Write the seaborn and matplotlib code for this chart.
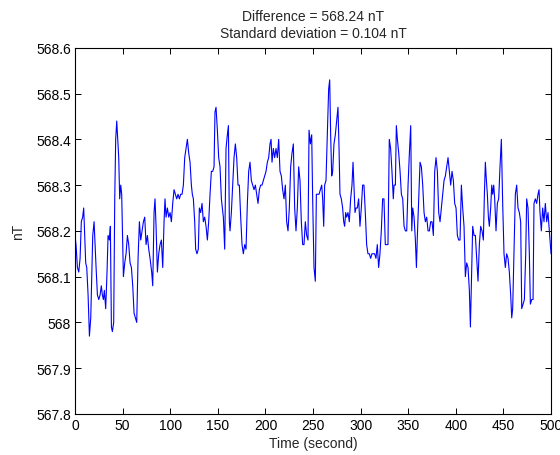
import pandas as pd
import matplotlib
matplotlib.use("Agg")
import matplotlib.pyplot as plt
import seaborn as sns
from matplotlib.ticker import MultipleLocator, FuncFormatter


time_s = [
    0.0, 1.0, 2.5, 3.9, 5.3, 6.6, 8.0, 9.1, 10.2, 11.2, 12.3, 13.7, 15.1, 16.5, 17.5, 18.6,
    20.0, 21.0, 22.1, 23.5, 24.9, 26.3, 27.6, 28.7, 29.8, 30.8, 32.2, 33.6, 34.7, 36.1, 37.1,
    38.2, 39.2, 40.6, 41.7, 42.7, 43.8, 44.8, 45.9, 46.9, 48.0, 49.0, 50.1, 50.8, 52.2, 53.6,
    55.0, 56.4, 57.8, 59.2, 60.6, 62.0, 63.4, 64.8, 66.2, 67.6, 69.0, 70.4, 71.8, 73.2, 74.6,
    76.0, 77.4,
    78.8, 80.5, 81.6, 83.0, 84.0, 85.1, 86.5, 87.9, 89.3, 90.7, 92.1, 93.5, 94.5, 95.6, 97.0,
    98.4, 99.8, 101.2, 102.6, 104.0, 105.4, 106.8, 108.2, 109.6, 111.0, 112.4, 113.8, 115.2,
    116.6, 118.0, 119.4, 120.8, 122.2, 123.2, 124.3, 125.7, 126.7, 128.1, 129.5, 130.6, 132.0,
    133.4, 134.8, 136.2, 137.6, 139.0, 140.4, 141.8, 143.2, 144.6, 146.0, 147.0, 148.1, 149.5,
    150.9, 152.3, 153.7, 154.7, 155.8, 157.2, 158.6, 160.0, 161.1, 162.1,
    162.8, 164.2, 165.6, 167.0, 168.4, 169.8, 171.2, 172.6, 174.0, 175.4, 176.8, 178.2, 179.6,
    181.0, 182.4, 183.8, 185.2, 186.6, 188.0, 189.4, 190.8, 192.2, 193.6, 195.0, 196.4, 197.8,
    199.2, 200.6, 202.0, 203.4, 204.8, 205.9, 206.9, 208.3, 209.7, 211.1, 212.5, 213.9, 215.3,
    216.7, 218.1, 219.5, 220.9, 222.3, 223.7, 225.1, 226.5, 227.9, 229.3, 230.7, 232.1, 233.5,
    234.9, 236.3, 237.7, 239.1, 240.5, 241.9, 243.3, 244.7, 245.8, 247.2, 248.6,
    249.6, 251.0, 252.4, 253.5, 254.9, 256.3, 257.7, 259.1, 260.1, 261.2, 262.2, 263.6, 265.0,
    266.4, 267.5, 268.5, 269.6, 270.6, 272.0, 273.4, 274.8, 276.2, 277.3, 278.3, 279.7, 281.1,
    282.2, 283.2, 284.3, 285.3, 286.7, 288.1, 289.5, 290.9, 292.0, 293.0, 294.1, 295.1, 296.5,
    297.9, 299.3, 300.7, 302.1, 303.5, 304.9, 306.3, 307.7, 309.1, 310.5, 311.9, 313.3, 314.7,
    316.1, 317.5, 318.9, 320.3, 321.7, 323.1, 324.5, 325.9, 327.3, 328.7, 330.1, 331.5, 332.9,
    334.3,
    335.1, 336.5, 337.5, 338.6, 340.0, 341.4, 342.8, 344.2, 345.6, 347.0, 348.4, 349.8, 351.2,
    352.6, 353.7, 354.7, 356.1, 357.5, 358.6, 359.6, 361.0, 362.4, 363.8, 365.2, 366.6, 368.0,
    369.4, 370.8, 372.2, 373.6, 375.0, 376.4, 377.8, 379.2, 380.6, 382.0, 383.4, 384.8, 386.2,
    387.6, 389.0, 390.4, 391.8, 393.2, 394.6, 396.0, 397.4, 398.8, 400.2, 401.6, 403.0, 404.4,
    405.8, 407.2, 408.6, 410.0, 411.4, 412.8, 414.2, 415.3,
    416.3, 417.7, 419.1, 420.5, 421.9, 423.3, 424.7, 426.1, 427.5, 428.9, 430.0, 431.0, 432.1,
    433.1, 434.2, 435.2, 436.6, 437.7, 438.7, 439.8, 440.8, 442.2, 443.6, 445.0, 446.4, 447.8,
    449.2, 450.6, 452.0, 453.4, 454.8, 456.2, 457.6, 458.7, 459.7, 461.1, 462.5, 463.9, 465.3,
    466.7, 468.1, 469.2, 470.6, 472.0, 473.4, 474.4, 475.8, 477.2, 478.3, 479.7, 481.1, 482.1,
    483.5, 484.9, 486.3, 487.4, 488.4, 489.8, 491.2, 492.6, 494.0, 495.4, 496.8, 498.2, 500.0,
]

field_nT = [
    568.19, 568.17, 568.12, 568.11, 568.14, 568.22, 568.23, 568.25, 568.19, 568.13, 568.12,
    568.06, 567.97, 568.01, 568.10, 568.19, 568.22, 568.17, 568.12, 568.06, 568.05, 568.06,
    568.08, 568.06, 568.05, 568.07, 568.03, 568.11, 568.19, 568.18, 568.21, 567.99, 567.98,
    568.00, 568.27, 568.40, 568.44, 568.40, 568.36, 568.27, 568.30, 568.28, 568.17, 568.10,
    568.13, 568.15, 568.19, 568.17, 568.13, 568.12, 568.08, 568.02, 568.01, 568.00, 568.14,
    568.22, 568.18, 568.20, 568.22, 568.23, 568.17, 568.19, 568.16,
    568.14, 568.11, 568.08, 568.24, 568.27, 568.21, 568.11, 568.15, 568.17, 568.18, 568.12,
    568.22, 568.27, 568.23, 568.25, 568.23, 568.24, 568.22, 568.26, 568.29, 568.28, 568.27,
    568.28, 568.27, 568.28, 568.28, 568.30, 568.36, 568.38, 568.40, 568.37, 568.35, 568.30,
    568.28, 568.27, 568.22, 568.16, 568.15, 568.16, 568.25, 568.24, 568.26, 568.22, 568.23,
    568.21, 568.18, 568.22, 568.28, 568.33, 568.33, 568.34, 568.46, 568.47, 568.42, 568.36,
    568.34, 568.27, 568.25, 568.23, 568.16, 568.38, 568.41, 568.43, 568.22,
    568.20, 568.24, 568.30, 568.36, 568.39, 568.36, 568.30, 568.30, 568.23, 568.17, 568.15,
    568.17, 568.16, 568.26, 568.33, 568.35, 568.31, 568.30, 568.29, 568.30, 568.28, 568.26,
    568.29, 568.30, 568.30, 568.31, 568.32, 568.33, 568.35, 568.36, 568.39, 568.40, 568.35,
    568.38, 568.36, 568.38, 568.36, 568.40, 568.33, 568.32, 568.29, 568.27, 568.30, 568.22,
    568.20, 568.25, 568.34, 568.37, 568.39, 568.25, 568.20, 568.25, 568.34, 568.31, 568.22,
    568.17, 568.17, 568.22, 568.19, 568.18, 568.42, 568.39, 568.41,
    568.27, 568.12, 568.09, 568.28, 568.28, 568.28, 568.29, 568.30, 568.27, 568.21, 568.30,
    568.31, 568.41, 568.51, 568.53, 568.41, 568.32, 568.33, 568.39, 568.41, 568.44, 568.47,
    568.38, 568.28, 568.27, 568.25, 568.22, 568.21, 568.24, 568.23, 568.24, 568.22, 568.27,
    568.30, 568.35, 568.30, 568.24, 568.25, 568.25, 568.27, 568.21, 568.25, 568.30, 568.30,
    568.24, 568.17, 568.15, 568.15, 568.14, 568.15, 568.15, 568.15, 568.14, 568.17, 568.12,
    568.15, 568.20, 568.27, 568.27, 568.17, 568.17, 568.17, 568.40, 568.38, 568.33, 568.27,
    568.30, 568.30, 568.43, 568.40, 568.37, 568.33, 568.28, 568.27, 568.21, 568.20, 568.20,
    568.30, 568.37, 568.43, 568.20, 568.25, 568.23, 568.18, 568.12, 568.19, 568.27, 568.35,
    568.34, 568.30, 568.24, 568.22, 568.23, 568.20, 568.20, 568.22, 568.22, 568.19, 568.33,
    568.36, 568.33, 568.24, 568.22, 568.25, 568.28, 568.31, 568.32, 568.34, 568.36, 568.33,
    568.30, 568.33, 568.31, 568.26, 568.25, 568.19, 568.18, 568.18, 568.30, 568.25, 568.21,
    568.10, 568.13, 568.12, 568.07, 567.99,
    568.08, 568.21, 568.19, 568.19, 568.14, 568.09, 568.17, 568.21, 568.20, 568.18, 568.28,
    568.35, 568.31, 568.28, 568.23, 568.21, 568.25, 568.30, 568.28, 568.30, 568.27, 568.20,
    568.26, 568.27, 568.34, 568.40, 568.26, 568.15, 568.12, 568.15, 568.14, 568.11, 568.06,
    568.01, 568.03, 568.15, 568.28, 568.30, 568.25, 568.24, 568.22, 568.03, 568.04, 568.05,
    568.15, 568.27, 568.25, 568.15, 568.04, 568.05, 568.05, 568.26, 568.27, 568.26, 568.28,
    568.29, 568.24, 568.20, 568.25, 568.22, 568.26, 568.22, 568.24, 568.20, 568.15,
]

title_lines = ["Difference = 568.24 nT", "Standard deviation = 0.104 nT"]

df = pd.DataFrame({"t": time_s, "b": field_nT})

sns.set_theme(style="ticks")
plt.rcParams["font.family"] = ["Liberation Sans", "DejaVu Sans"]
plt.rcParams["xtick.direction"] = "in"
plt.rcParams["ytick.direction"] = "in"

fig = plt.figure(figsize=(5.6, 4.56), dpi=100)
ax = fig.add_axes([0.134, 0.090, 0.850, 0.803])

sns.lineplot(data=df, x="t", y="b", ax=ax, color="#0000ff", linewidth=0.8,
             estimator=None, sort=False)

ax.set_xlim(0, 500)
ax.set_ylim(567.8, 568.6)
ax.xaxis.set_major_locator(MultipleLocator(50))
ax.yaxis.set_major_locator(MultipleLocator(0.1))
# matlab style labels: 568 not 568.0
ax.yaxis.set_major_formatter(FuncFormatter(lambda v, p: "%g" % round(v, 1)))

for side in ["top", "right", "left", "bottom"]:
    ax.spines[side].set_visible(True)
    ax.spines[side].set_color("black")
    ax.spines[side].set_linewidth(0.8)
ax.tick_params(which="both", top=True, right=True, length=4, width=0.7,
               colors="black", labelsize=10, pad=3)

ax.set_xlabel("Time (second)", fontsize=10, labelpad=3)
ax.set_ylabel("nT", fontsize=10, labelpad=8)
ax.set_title("\n".join(title_lines), fontsize=10, pad=8, linespacing=1.2)

fig.savefig("out.png", dpi=100)
